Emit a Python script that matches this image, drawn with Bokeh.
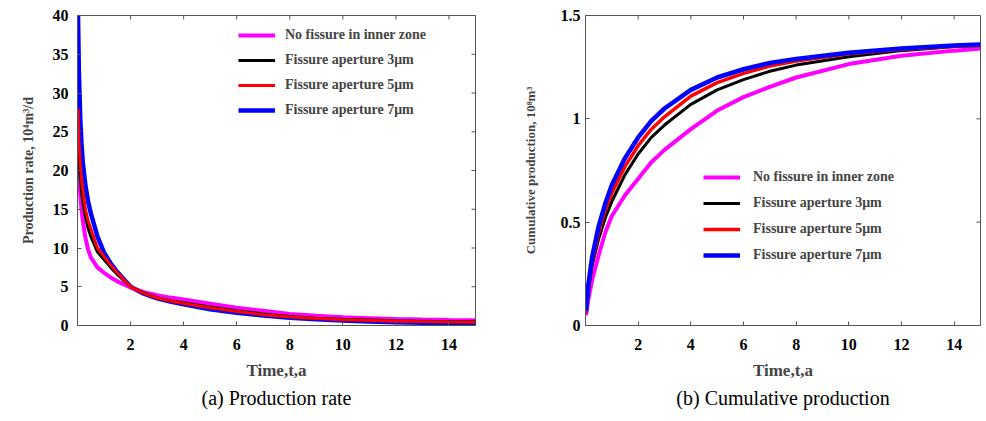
import math
from bokeh.plotting import figure
from bokeh.models import FixedTicker, Legend, LegendItem, Title, Range1d
from bokeh.layouts import row
from bokeh.embed import file_html
from bokeh.resources import INLINE

SERIES = ["No fissure in inner zone", "Fissure aperture 3\u03bcm", "Fissure aperture 5\u03bcm", "Fissure aperture 7\u03bcm"]
COLORS = ["#ff00ff", "#000000", "#ff0000", "#0000ff"]

t_rate = [0.02, 0.05, 0.1, 0.15, 0.2, 0.3, 0.4, 0.5, 0.75, 1, 1.25, 1.5, 2, 2.5, 3, 3.5, 4, 5, 6, 7, 8, 9, 10, 11, 12, 13, 14, 15]
rate_none = [22, 19.5, 17, 15, 13.5, 11.3, 9.8, 8.8, 7.5, 6.8, 6.2, 5.7, 4.9, 4.3, 3.9, 3.6, 3.35, 2.8, 2.3, 1.9, 1.5, 1.25, 1.05, 0.95, 0.85, 0.78, 0.72, 0.68]
rate_3um = [26, 22, 19, 17.3, 16, 14, 12.5, 11.5, 9.5, 8.5, 7.5, 6.6, 5.0, 4.2, 3.6, 3.2, 2.95, 2.4, 1.9, 1.5, 1.15, 0.95, 0.8, 0.7, 0.6, 0.55, 0.5, 0.47]
rate_5um = [28, 24, 21, 19, 17.5, 15, 13.5, 12.5, 10, 8.9, 7.8, 6.8, 5.0, 4.15, 3.55, 3.15, 2.85, 2.3, 1.8, 1.4, 1.1, 0.9, 0.75, 0.65, 0.55, 0.5, 0.45, 0.42]
rate_7um = [40, 33, 27, 23.5, 21, 18, 16, 14.5, 11.5, 9.4, 8.0, 6.9, 5.0, 4.1, 3.5, 3.1, 2.75, 2.1, 1.65, 1.3, 1.0, 0.8, 0.65, 0.5, 0.42, 0.36, 0.32, 0.3]

t_cum = [0.02, 0.1, 0.25, 0.5, 0.75, 1, 1.5, 2, 2.5, 3, 4, 5, 6, 7, 8, 10, 12, 14, 15]
cum_none = [0.05, 0.12, 0.22, 0.34, 0.45, 0.53, 0.63, 0.71, 0.79, 0.85, 0.95, 1.04, 1.105, 1.155, 1.20, 1.265, 1.305, 1.33, 1.34]
cum_3um = [0.06, 0.16, 0.29, 0.42, 0.52, 0.60, 0.73, 0.83, 0.91, 0.97, 1.07, 1.14, 1.19, 1.23, 1.26, 1.30, 1.33, 1.35, 1.355]
cum_5um = [0.06, 0.17, 0.31, 0.45, 0.56, 0.64, 0.77, 0.87, 0.95, 1.01, 1.11, 1.175, 1.22, 1.255, 1.28, 1.315, 1.335, 1.35, 1.355]
cum_7um = [0.07, 0.19, 0.33, 0.48, 0.59, 0.68, 0.81, 0.91, 0.99, 1.05, 1.14, 1.20, 1.24, 1.27, 1.29, 1.32, 1.34, 1.355, 1.36]

x_ticks = [2, 4, 6, 8, 10, 12, 14]
x_max = 15
rate_ticks = [0, 5, 10, 15, 20, 25, 30, 35, 40]
cum_ticks = [0, 0.5, 1, 1.5]
cum_tick_labels = {0: "0", 0.5: "0.5", 1: "1", 1.5: "1.5"}

FONT = "Liberation Serif"
AX_COLOR = "#555555"


def style_axis(ax, ticks):
    ax.ticker = FixedTicker(ticks=ticks)
    ax.axis_line_color = AX_COLOR
    ax.major_tick_line_color = AX_COLOR
    ax.major_tick_in = 4
    ax.major_tick_out = 0
    ax.minor_tick_line_color = None
    ax.major_label_text_font = FONT
    ax.major_label_text_font_style = "bold"
    ax.major_label_text_color = "black"
    ax.major_label_text_font_size = "16px"


def make_panel(x, ys, order, y_max, y_ticks, y_label, y_label_size, caption,
               border_left, border_right, legend_loc, legend_spacing, legend_standoff,
               widths, y_overrides=None, y_label_standoff=8, tick_standoff=9):
    p = figure(width=493, height=421, output_backend="svg", toolbar_location=None,
               x_range=Range1d(0, x_max), y_range=Range1d(0, y_max),
               min_border_left=border_left, min_border_right=border_right,
               min_border_top=15, min_border_bottom=96)
    p.background_fill_color = "white"
    p.border_fill_color = "white"
    p.outline_line_color = AX_COLOR
    p.grid.visible = False

    style_axis(p.xaxis[0], x_ticks)
    p.xaxis[0].major_label_standoff = 13
    p.xaxis[0].axis_label = "Time,t,a"
    p.xaxis[0].axis_label_text_font = FONT
    p.xaxis[0].axis_label_text_font_style = "bold"
    p.xaxis[0].axis_label_text_font_size = "17px"
    p.xaxis[0].axis_label_standoff = 8

    style_axis(p.yaxis[0], y_ticks)
    p.yaxis[0].major_label_standoff = tick_standoff
    if y_overrides:
        p.yaxis[0].major_label_overrides = y_overrides
    p.yaxis[0].axis_label = y_label
    p.yaxis[0].axis_label_text_font = FONT
    p.yaxis[0].axis_label_text_font_style = "bold"
    p.yaxis[0].axis_label_text_font_size = y_label_size
    p.yaxis[0].axis_label_standoff = y_label_standoff

    # mirrored inward ticks on the top and right frame edges (half of each dash is clipped)
    p.scatter(x=x_ticks, y=[y_max] * len(x_ticks), marker="dash", angle=math.pi / 2,
              size=8, line_color=AX_COLOR, line_width=1)
    p.scatter(x=[x_max] * len(y_ticks), y=y_ticks, marker="dash",
              size=8, line_color=AX_COLOR, line_width=1)

    renderers = {}
    for i in order:
        renderers[i] = p.line(x, ys[i], line_color=COLORS[i], line_width=widths[i])

    items = [LegendItem(label=SERIES[i], renderers=[renderers[i]]) for i in range(4)]
    legend = Legend(items=items, location=legend_loc, border_line_color=None,
                    background_fill_alpha=0, padding=0, margin=0,
                    spacing=legend_spacing, glyph_width=37, glyph_height=20,
                    label_height=20, label_standoff=legend_standoff,
                    label_text_font=FONT, label_text_font_style="bold",
                    label_text_font_size="14px")
    p.add_layout(legend)

    cap = Title(text=caption, align="center", text_font=FONT, text_font_style="normal",
                text_font_size="20px", text_color="black", standoff=4)
    p.add_layout(cap, "below")
    return p


p1 = make_panel(t_rate, [rate_none, rate_3um, rate_5um, rate_7um], [3, 0, 1, 2], 40, rate_ticks,
                "Production rate, 10\u2074m\u00b3/d", "14px", "(a) Production rate",
                77, 18, (161, 205), 5, 10, [4, 3, 3, 4.5],
                y_label_standoff=14, tick_standoff=9)
p2 = make_panel(t_cum, [cum_none, cum_3um, cum_5um, cum_7um], [0, 1, 2, 3], 1.5, cum_ticks,
                "Cumulative production, 10\u2078m\u00b3", "13px", "(b) Cumulative production",
                92, 6, (118, 60), 6, 13, [4, 3, 3.5, 4.5], y_overrides=cum_tick_labels,
                y_label_standoff=20, tick_standoff=5)

layout = row(p1, p2)
open("out.html", "w").write(file_html(layout, INLINE))
